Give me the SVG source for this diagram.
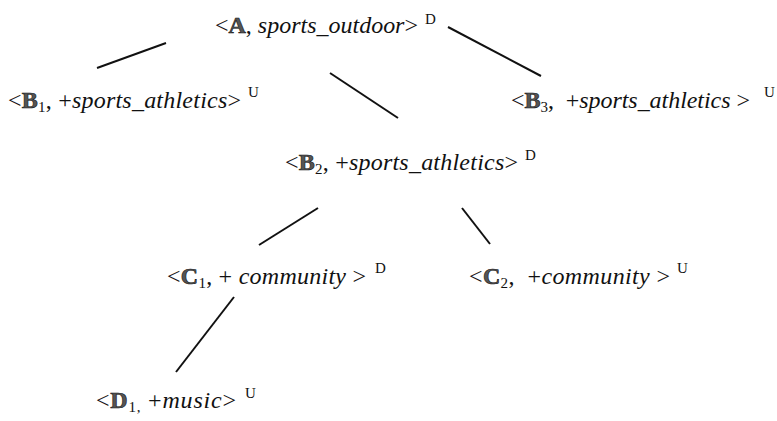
<svg xmlns="http://www.w3.org/2000/svg" width="777" height="421" viewBox="0 0 777 421">
<style>
text{font-family:"Liberation Serif","Times New Roman",serif;font-size:24px;fill:#111}
.i{font-style:italic}
.L{font-weight:bold;fill:#555;stroke:#111;stroke-width:0.6}
.sub{font-size:15px}
.sup{font-size:15px}
.e line{stroke:#111;stroke-width:2}
</style>
<rect width="777" height="421" fill="#fff"/>
<g class="e" id="connectors">
<line x1="97" y1="68" x2="166" y2="43"/>
<line x1="330" y1="73" x2="398" y2="118"/>
<line x1="448" y1="27" x2="541" y2="76"/>
<line x1="318" y1="208" x2="259" y2="245"/>
<line x1="462" y1="208" x2="490" y2="244"/>
<line x1="234" y1="297" x2="176" y2="372"/>
</g>
<g id="nodeA"><text x="215" y="33" textLength="203" lengthAdjust="spacing">&lt;<tspan class="L">A</tspan>, <tspan class="i">sports_outdoor</tspan>&gt;</text><text class="sup" x="425" y="24">D</text></g>
<g id="nodeB1"><text x="8" y="108" textLength="233" lengthAdjust="spacing">&lt;<tspan class="L">B</tspan><tspan class="sub" dy="4">1</tspan><tspan dy="-4">, +</tspan><tspan class="i">sports_athletics</tspan>&gt;</text><text class="sup" x="248" y="97">U</text></g>
<g id="nodeB3"><text xml:space="preserve" x="511" y="108" textLength="239" lengthAdjust="spacing">&lt;<tspan class="L">B</tspan><tspan class="sub" dy="4">3</tspan><tspan dy="-4">,  +</tspan><tspan class="i">sports_athletics</tspan> &gt;</text><text class="sup" x="764" y="97">U</text></g>
<g id="nodeB2"><text x="285" y="170" textLength="233" lengthAdjust="spacing">&lt;<tspan class="L">B</tspan><tspan class="sub" dy="4">2</tspan><tspan dy="-4">, +</tspan><tspan class="i">sports_athletics</tspan>&gt;</text><text class="sup" x="525" y="160">D</text></g>
<g id="nodeC1"><text xml:space="preserve" x="167" y="284" textLength="199" lengthAdjust="spacing">&lt;<tspan class="L">C</tspan><tspan class="sub" dy="4">1</tspan><tspan dy="-4">, + </tspan><tspan class="i">community</tspan> &gt;</text><text class="sup" x="375" y="273">D</text></g>
<g id="nodeC2"><text xml:space="preserve" x="469" y="284" textLength="201" lengthAdjust="spacing">&lt;<tspan class="L">C</tspan><tspan class="sub" dy="4">2</tspan><tspan dy="-4">,  +</tspan><tspan class="i">community</tspan> &gt;</text><text class="sup" x="677" y="273">U</text></g>
<g id="nodeD1"><text x="96" y="408" textLength="140" lengthAdjust="spacing">&lt;<tspan class="L">D</tspan><tspan class="sub" dy="4">1,</tspan><tspan dy="-4"> +</tspan><tspan class="i">music</tspan>&gt;</text><text class="sup" x="245" y="398">U</text></g>
</svg>
